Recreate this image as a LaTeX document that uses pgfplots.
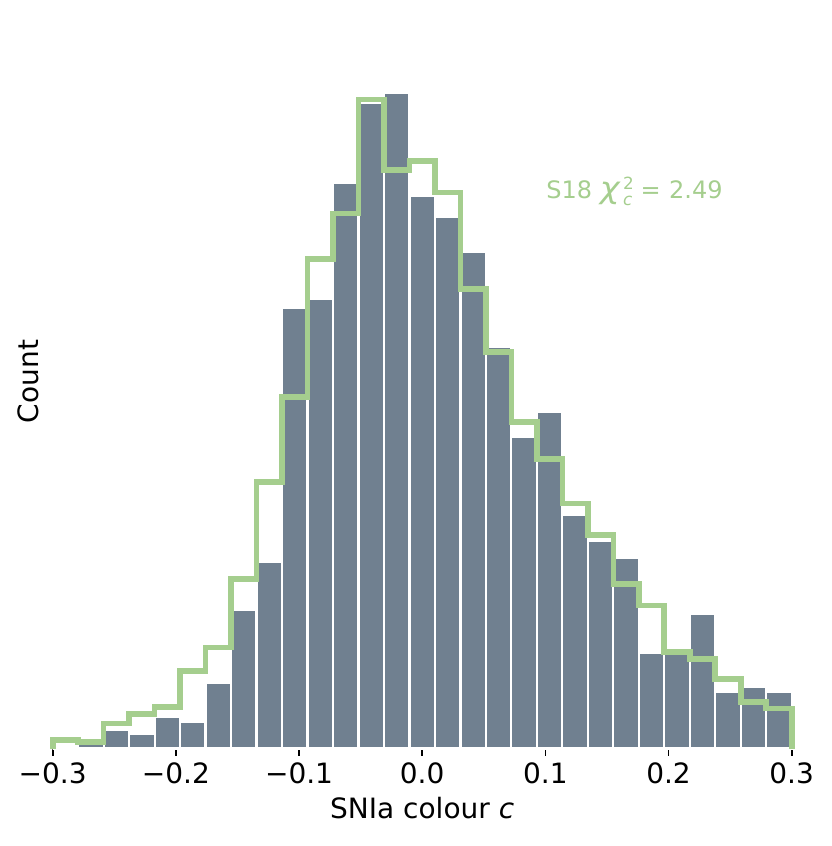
\documentclass[border=0pt]{standalone}
\usepackage{fontspec}
\setmainfont{DejaVu Sans}
\usepackage{graphicx}
\usepackage{pgfplots}
\pgfplotsset{compat=1.18}
\definecolor{barc}{RGB}{112,128,144}
\definecolor{grn}{RGB}{165,206,142}
\begin{document}
\begin{tikzpicture}
\useasboundingbox (-26.35pt,-48.75pt) rectangle (389.15pt,374.25pt);
\begin{axis}[at={(0pt,0pt)}, anchor=south west, scale only axis,
  width=369.5pt, height=367pt,
  xmin=-0.3, xmax=0.3, ymin=0, ymax=734,
  axis line style={draw=none},
  xtick={-0.3,-0.2,-0.1,0,0.1,0.2,0.3},
  xticklabels={−0.3,−0.2,−0.1,0.0,0.1,0.2,0.3},
  ytick=\empty,
  xtick pos=bottom, tick align=outside, major tick length=3.5pt,
  tick style={black, line width=0.8pt},
  tick label style={font=\fontsize{14}{16}\selectfont},
  label style={font=\fontsize{14}{16}\selectfont},
  xlabel={SNIa colour \textit{c}},
  ylabel={Count},
  ylabel style={at={(axis description cs:-0.00866,0.5)}, anchor=south},
  clip=false,
]
\addplot[ybar interval, fill=barc, draw=white, line width=1.1pt] coordinates {
(-0.300000,0) (-0.279310,9.2) (-0.258621,18.5) (-0.237931,14.5) (-0.217241,31.2)
(-0.196552,26.8) (-0.175862,65.8) (-0.155172,138.5) (-0.134483,186.2) (-0.113793,440.2)
(-0.093103,449.2) (-0.072414,565.2) (-0.051724,645.8) (-0.031034,655.2) (-0.010345,552.5)
(0.010345,531.2) (0.031034,496.2) (0.051724,401.5) (0.072414,311.2) (0.093103,336.8)
(0.113793,233.5) (0.134483,207.8) (0.155172,190.8) (0.175862,95.8) (0.196552,100.2)
(0.217241,134.5) (0.237931,56.8) (0.258621,61.2) (0.279310,56.8) (0.300000,0)
};
\addplot[const plot, draw=grn, line width=2.8pt, line join=miter] coordinates {
(-0.300000,0)
(-0.300000,8.8) (-0.279310,6.5) (-0.258621,25.2) (-0.237931,34.5) (-0.217241,41.8)
(-0.196552,77.5) (-0.175862,101.2) (-0.155172,169.5) (-0.134483,266.5) (-0.113793,351.5)
(-0.093103,489.2) (-0.072414,534.8) (-0.051724,648.8) (-0.031034,578.2) (-0.010345,587.5)
(0.010345,555.8) (0.031034,459.2) (0.051724,396.5) (0.072414,326.5) (0.093103,289.2)
(0.113793,245.0) (0.134483,213.2) (0.155172,164.2) (0.175862,143.2) (0.196552,96.5)
(0.217241,89.8) (0.237931,69.8) (0.258621,46.8) (0.279310,40.2) (0.300000,0)
};
\node[anchor=base west, inner sep=0pt, text=grn, font=\fontsize{12}{14}\selectfont]
  at (axis cs:0.1005,550.2)
  {S18 \scalebox{1.4}[1.25]{\textit{χ}}\hspace{1.2pt}\rlap{\raisebox{0.38em}{\fontsize{8.4}{9}\selectfont 2}}\raisebox{-0.28em}{\fontsize{8.4}{9}\selectfont\textit{c}}\hspace{4.2pt}=\hspace{4.2pt}2.49};
\end{axis}
\end{tikzpicture}
\end{document}
